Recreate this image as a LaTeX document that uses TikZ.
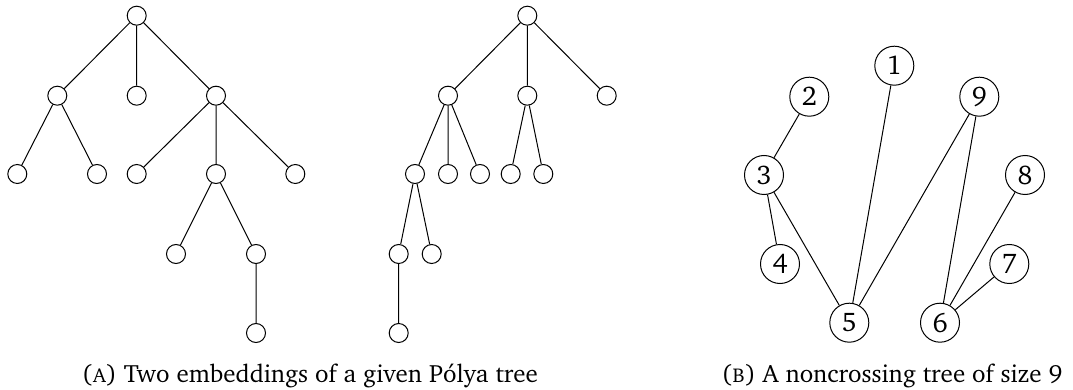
\documentclass[tikz,border=0pt]{standalone}
\usepackage[T1]{fontenc}
\usepackage{charter}
\tikzset{
  t/.style={circle,draw,line width=1pt,minimum size=19pt,inner sep=0pt},
  nc/.style={circle,draw,line width=1pt,minimum size=39pt,inner sep=0pt,font=\fontsize{27}{30}\selectfont},
  ed/.style={line width=1pt},
  captxt/.style={font=\fontsize{25}{30}\selectfont,inner sep=0pt,anchor=base}
}
\begin{document}
\begin{tikzpicture}[x=1pt,y=-1pt]
\useasboundingbox (0,0) rectangle (1073,390);
% tree 1
\node[t] (r) at (136.7,15.7) {};
\node[t] (a) at (57.3,95.7) {};
\node[t] (b) at (136.7,95.7) {};
\node[t] (c) at (216,95.7) {};
\node[t] (a1) at (17.3,174) {};
\node[t] (a2) at (97,174) {};
\node[t] (c1) at (136.7,174) {};
\node[t] (c2) at (216,174) {};
\node[t] (c3) at (295.3,174) {};
\node[t] (d1) at (176,254) {};
\node[t] (d2) at (256,254) {};
\node[t] (e1) at (256,333) {};
\draw[ed] (r)--(a) (r)--(b) (r)--(c) (a)--(a1) (a)--(a2) (c)--(c1) (c)--(c2) (c)--(c3)
  (c2)--(d1) (c2)--(d2) (d2)--(e1);
% tree 2
\node[t] (R) at (527.3,15.7) {};
\node[t] (A) at (448,95.7) {};
\node[t] (B) at (527.3,95.7) {};
\node[t] (C) at (606.7,95.7) {};
\node[t] (A1) at (415,174) {};
\node[t] (A2) at (448,174) {};
\node[t] (A3) at (480,174) {};
\node[t] (B1) at (510.7,174) {};
\node[t] (B2) at (543.3,174) {};
\node[t] (D1) at (398.7,254) {};
\node[t] (D2) at (431.7,254) {};
\node[t] (E1) at (398.7,333) {};
\draw[ed] (R)--(A) (R)--(B) (R)--(C) (A)--(A1) (A)--(A2) (A)--(A3) (B)--(B1) (B)--(B2)
  (A1)--(D1) (A1)--(D2) (D1)--(E1);
% noncrossing tree
\node[nc] (n1) at (894.3,65.7) {1};
\node[nc] (n2) at (809.3,96.7) {2};
\node[nc] (n9) at (979.3,96.7) {9};
\node[nc] (n3) at (764,175) {3};
\node[nc] (n8) at (1025,175) {8};
\node[nc] (n4) at (780,264) {4};
\node[nc] (n7) at (1009.3,264) {7};
\node[nc] (n5) at (849.3,322.7) {5};
\node[nc] (n6) at (940,322.7) {6};
\draw[ed] (n2)--(n3) (n3)--(n4) (n3)--(n5) (n1)--(n5) (n9)--(n5) (n9)--(n6) (n8)--(n6) (n7)--(n6);
% captions
\node[captxt] (capA) at (310,382) {(\textsc{a}) Two embeddings of a given P\'olya tree};
\node[captxt] (capB) at (892,382) {(\textsc{b}) A noncrossing tree of size 9};
\end{tikzpicture}
\end{document}
